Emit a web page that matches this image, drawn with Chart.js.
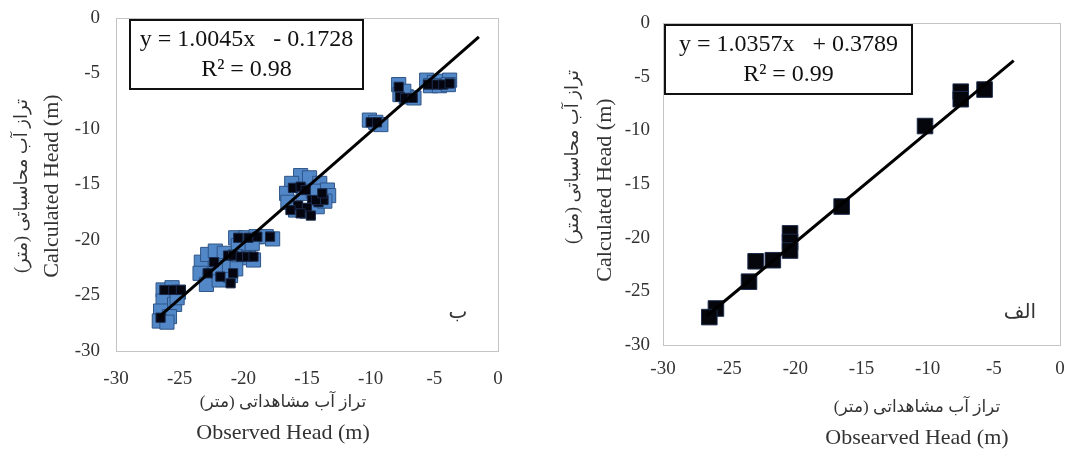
<!DOCTYPE html>
<html>
<head>
<meta charset="utf-8">
<script src="https://cdn.jsdelivr.net/npm/chart.js@4.4.1/dist/chart.umd.min.js"></script>
<style>
  body { margin: 0; background: #fff; }
  #left { position: absolute; left: 0; top: 0; }
  #right { position: absolute; left: 540px; top: 0; }
</style>
</head>
<body>
<canvas id="left" width="540" height="455"></canvas>
<canvas id="right" width="533" height="455"></canvas>
<script>
// chart ب (left): observed vs calculated head, two marker series
var bBlueObs  = [-5.6, -5.0, -4.4, -3.8, -5.3, -4.6, -3.9, -7.8, -7.7, -7.2, -6.6, -7.4, -10.1, -9.6, -9.2,
  -15.5, -14.8, -16.2, -14.0, -13.4, -13.3, -16.6, -16.5, -15.9, -15.0, -14.2, -13.6, -15.3, -14.5,
  -20.6, -19.8, -19.0, -18.2, -17.7, -20.4, -19.3,
  -23.3, -22.8, -22.2, -21.5, -20.6, -19.6, -19.2, -23.4, -22.6, -22.9, -21.9, -21.0, -20.6, -21.6, -22.2,
  -26.3, -25.6, -25.1, -26.3, -25.4, -26.5, -25.8, -26.6, -26.0, -25.2];
var bBlueCalc = [-5.6, -5.8, -5.7, -5.6, -6.1, -6.1, -6.0, -6.0, -6.9, -7.1, -7.2, -6.6, -9.2, -9.4, -9.6,
  -14.2, -14.4, -14.9, -14.9, -15.5, -16.0, -15.8, -16.6, -17.3, -17.4, -17.0, -16.5, -15.8, -15.6,
  -19.8, -19.8, -19.7, -19.7, -19.9, -20.5, -20.3,
  -22.0, -21.3, -21.0, -21.2, -21.5, -21.6, -21.8, -23.0, -23.4, -24.0, -23.6, -23.2, -22.6, -22.3, -22.5,
  -24.5, -24.3, -24.7, -25.5, -25.8, -26.4, -26.9, -27.3, -27.4, -25.2];
var bBlackObs  = [-5.5, -4.8, -4.3, -3.8, -7.8, -7.7, -7.3, -6.7, -10.0, -9.5,
  -16.1, -15.5, -15.1, -14.6, -14.1, -13.7, -15.7, -15.0, -14.3, -13.8, -16.3, -15.5, -14.7,
  -20.4, -19.6, -18.9, -17.9,
  -22.3, -21.2, -20.8, -20.2, -19.7, -19.2, -22.8, -21.8, -20.8, -21.0,
  -26.2, -25.5, -24.9, -26.5];
var bBlackCalc = [-6.0, -6.0, -6.0, -5.9, -6.2, -7.1, -7.2, -7.2, -9.4, -9.4,
  -15.3, -15.2, -15.5, -16.4, -16.6, -16.4, -16.9, -17.1, -16.4, -15.8, -17.3, -17.6, -17.8,
  -19.8, -19.8, -19.7, -19.7,
  -22.0, -21.4, -21.4, -21.5, -21.5, -21.5, -23.0, -23.3, -23.0, -23.9,
  -24.5, -24.5, -24.5, -27.0];
var bTrendObs  = [-26.6, -1.5];
var bTrendCalc = [-26.9, -1.7];

// chart الف (right)
var aObs  = [-5.7, -7.5, -7.5, -10.2, -16.5, -20.4, -20.4, -20.4, -21.7, -23.0, -23.5, -26.0, -26.5];
var aCalc = [-6.2, -6.4, -7.1, -9.6, -17.1, -19.6, -20.4, -21.2, -22.1, -22.2, -24.1, -26.6, -27.4];
var aTrendObs  = [-26.7, -3.5];
var aTrendCalc = [-27.3, -3.5];

var axisTicks = [-30, -25, -20, -15, -10, -5, 0];

var bEquation = ['y = 1.0045x   - 0.1728', 'R\u00B2 = 0.98'];
var aEquation = ['y = 1.0357x   + 0.3789', 'R\u00B2 = 0.99'];
var xTitleFa = 'تراز آب مشاهداتی (متر)';
var yTitleFa = 'تراز آب محاسباتی (متر)';
var yTitleEn = 'Calculated Head (m)';
var bXTitleEn = 'Observed Head (m)';
var aXTitleEn = 'Obsearved Head (m)';

function pts(xs, ys) {
  return xs.map(function(x, i) { return { x: x, y: ys[i] }; });
}

var serif = "'Liberation Serif', 'Times New Roman', 'DejaVu Sans', serif";

var decor = {
  id: 'decor',
  beforeDatasetsDraw: function(chart) {
    var ctx = chart.ctx, a = chart.chartArea;
    ctx.save();
    ctx.strokeStyle = '#c4c4c4';
    ctx.lineWidth = 1;
    ctx.strokeRect(Math.round(a.left) + 0.5, Math.round(a.top) + 0.5, Math.round(a.width), Math.round(a.height));
    ctx.restore();
  },
  afterDraw: function(chart, args, o) {
    var ctx = chart.ctx;
    ctx.save();
    // equation box
    ctx.fillStyle = '#fff';
    ctx.fillRect(o.box[0], o.box[1], o.box[2], o.box[3]);
    ctx.strokeStyle = '#111';
    ctx.lineWidth = 2;
    ctx.strokeRect(o.box[0], o.box[1], o.box[2], o.box[3]);
    ctx.fillStyle = '#111';
    ctx.textAlign = 'center';
    ctx.textBaseline = 'middle';
    ctx.font = '24px ' + serif;
    var cx = o.box[0] + o.box[2] / 2;
    ctx.fillText(o.eq[0], cx, o.box[1] + 20);
    ctx.fillText(o.eq[1], cx, o.box[1] + 50);
    // panel letter
    ctx.font = '20px ' + serif;
    ctx.fillStyle = '#333';
    ctx.fillText(o.tag, o.tagPos[0], o.tagPos[1]);
    // x titles
    ctx.font = '17px ' + serif;
    ctx.fillText(xTitleFa, o.xTitle[0], o.xTitle[1]);
    ctx.font = '22px ' + serif;
    ctx.fillText(o.xTitleEn, o.xTitle[0], o.xTitle[2]);
    // y titles
    ctx.save();
    ctx.translate(o.yTitle[0], o.yTitle[1]);
    ctx.rotate(-Math.PI / 2);
    ctx.font = '18px ' + serif;
    ctx.fillText(yTitleFa, 0, 0);
    ctx.restore();
    ctx.save();
    ctx.translate(o.yTitle[2], o.yTitle[3]);
    ctx.rotate(-Math.PI / 2);
    ctx.font = '22px ' + serif;
    ctx.fillText(yTitleEn, 0, 0);
    ctx.restore();
    ctx.restore();
  }
};

function makeChart(id, datasets, area, deco) {
  var canvas = document.getElementById(id);
  return new Chart(canvas.getContext('2d'), {
    type: 'scatter',
    data: { datasets: datasets },
    plugins: [decor],
    options: {
      responsive: false,
      animation: false,
      layout: { padding: { left: 0, top: area.top, right: canvas.width - area.right, bottom: 0 } },
      plugins: { legend: { display: false }, tooltip: { enabled: false }, decor: deco },
      scales: {
        x: {
          min: -30, max: 0,
          afterBuildTicks: function(s) { s.ticks = axisTicks.map(function(v) { return { value: v }; }); },
          afterFit: function(s) { s.height = canvas.height - area.bottom; },
          grid: { display: false },
          border: { display: false },
          ticks: { padding: area.xPad, color: '#333', font: { family: serif, size: 19 } }
        },
        y: {
          min: -30, max: 0,
          afterBuildTicks: function(s) { s.ticks = axisTicks.map(function(v) { return { value: v }; }); },
          afterFit: function(s) { s.width = area.left; },
          // invisible tick marks push the labels away from the plot frame
          grid: { display: true, drawOnChartArea: false, drawTicks: true, tickLength: area.yPad - 2, color: 'rgba(0,0,0,0)' },
          border: { display: false },
          ticks: { padding: 2, color: '#333', font: { family: serif, size: 19 } }
        }
      }
    }
  });
}

makeChart('left', [
  { type: 'line', data: pts(bTrendObs, bTrendCalc), borderColor: '#000', borderWidth: 3, pointRadius: 0, fill: false },
  { data: pts(bBlackObs, bBlackCalc), pointStyle: 'rect', pointRadius: 6.5, backgroundColor: '#050510', borderColor: '#1a2a4a', borderWidth: 1 },
  { data: pts(bBlueObs, bBlueCalc), pointStyle: 'rect', pointRadius: 10, backgroundColor: '#5388c8', borderColor: '#2e5486', borderWidth: 1 }
], { left: 116, right: 498, top: 18, bottom: 351, xPad: 9, yPad: 16 }, {
  box: [130, 20, 233, 69], eq: bEquation, tag: 'ب', tagPos: [458, 313],
  xTitle: [283, 403, 433], xTitleEn: bXTitleEn, yTitle: [22, 186, 52, 186]
});

makeChart('right', [
  { type: 'line', data: pts(aTrendObs, aTrendCalc), borderColor: '#000', borderWidth: 3, pointRadius: 0, fill: false },
  { data: pts(aObs, aCalc), pointStyle: 'rect', pointRadius: 11, backgroundColor: '#05050c', borderColor: '#1c2c4c', borderWidth: 1 }
], { left: 123, right: 520, top: 23, bottom: 345, xPad: 5, yPad: 13 }, {
  box: [125, 25, 247, 69], eq: aEquation, tag: 'الف', tagPos: [480, 313],
  xTitle: [377, 408, 438], xTitleEn: aXTitleEn, yTitle: [33, 157, 65, 190]
});
</script>
</body>
</html>
